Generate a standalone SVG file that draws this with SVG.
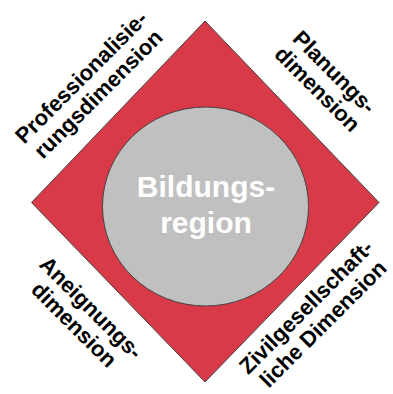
<svg xmlns="http://www.w3.org/2000/svg" width="393" height="394" viewBox="0 0 393 394">
<style>
.lbl{font-family:"Liberation Sans",Arial,sans-serif;font-weight:bold;font-size:22px;fill:#000;text-anchor:middle}
.ctr{font-family:"Liberation Sans",Arial,sans-serif;font-weight:bold;font-size:30px;fill:#fff;text-anchor:middle}
</style>
<rect width="393" height="394" fill="#fff"/>
<g id="diamond">
<polygon points="205,21 379,202.5 205,382 31.5,202.5" fill="#d83a47" stroke="#444" stroke-width="1"/>
</g>
<g id="region">
<ellipse cx="205.5" cy="206.5" rx="103" ry="99.5" fill="#c0c0c0" stroke="#444" stroke-width="1"/>
<text class="ctr" x="206" y="197">Bildungs-</text>
<text class="ctr" x="206" y="233">region</text>
</g>
<g id="professionalisierung" transform="translate(86.6,82.4) rotate(-45)">
<text class="lbl" x="0" y="0">Professionalisie-</text>
<text class="lbl" x="0" y="24">rungsdimension</text>
</g>
<g id="planung" transform="translate(329.1,77.4) rotate(45)">
<text class="lbl" x="0" y="0">Planungs-</text>
<text class="lbl" x="0" y="24">dimension</text>
</g>
<g id="aneignung" transform="translate(85.8,313) rotate(45)">
<text class="lbl" x="0" y="0">Aneignungs-</text>
<text class="lbl" x="0" y="24">dimension</text>
</g>
<g id="zivilgesellschaft" transform="translate(311.4,312.1) rotate(-45)">
<text class="lbl" x="0" y="0">Zivilgesellschaft-</text>
<text class="lbl" x="0" y="24">liche Dimension</text>
</g>
<g id="connectors"></g>
</svg>
